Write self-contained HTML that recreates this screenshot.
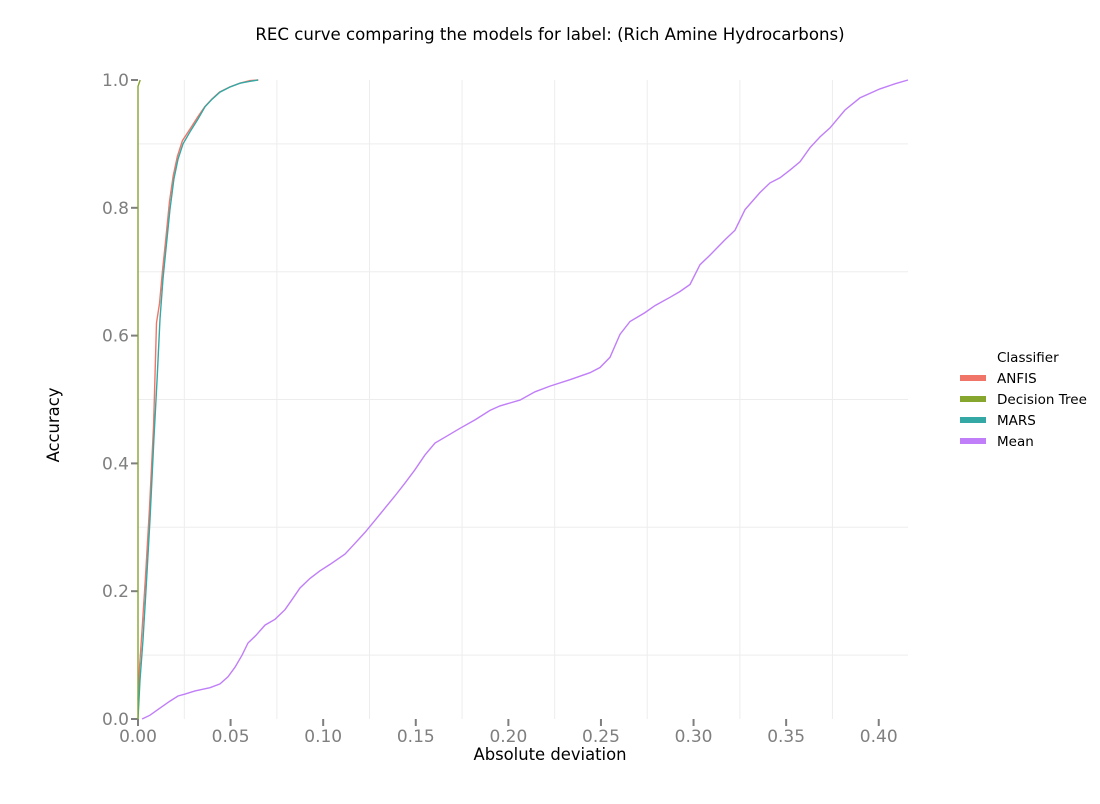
<!DOCTYPE html>
<html><head><meta charset="utf-8"><style>
body{margin:0;background:#fff;font-family:"DejaVu Sans","Liberation Sans",sans-serif}
</style></head><body>
<svg id="chart" width="1100" height="800" xmlns="http://www.w3.org/2000/svg">
<text x="550" y="40" text-anchor="middle" font-size="16.6" fill="#000">REC curve comparing the models for label: (Rich Amine Hydrocarbons)</text>
<g id="grid"></g>
<g id="axes"></g>
<g id="series"></g>
<text x="550" y="760" text-anchor="middle" font-size="16.4" fill="#000">Absolute deviation</text>
<text transform="translate(59,425) rotate(-90)" text-anchor="middle" font-size="16.4" fill="#000">Accuracy</text>
<g id="legend">
<text x="997" y="362" font-size="13.5" fill="#000">Classifier</text>
</g>
</svg>
<script>
const xTicks=[0,0.05,0.1,0.15,0.2,0.25,0.3,0.35,0.4];
const xTickLabels=["0.00","0.05","0.10","0.15","0.20","0.25","0.30","0.35","0.40"];
const yTicks=[0,0.2,0.4,0.6,0.8,1.0];
const yTickLabels=["0.0","0.2","0.4","0.6","0.8","1.0"];
const seriesNames=["ANFIS","Decision Tree","MARS","Mean"];
const seriesColors=["#f07568","#86a62e","#33a8a4","#c07ef8"];
const anfisX=[0,0.0008,0.0022,0.004,0.0062,0.0084,0.0100,0.0116,0.0132,0.0148,0.0170,0.0190,0.0212,0.0240,0.0285,0.0322,0.0360,0.0398,0.0440,0.0495,0.0550,0.0605,0.0650];
const anfisY=[0.03,0.08,0.14,0.22,0.33,0.46,0.62,0.65,0.70,0.745,0.81,0.85,0.88,0.905,0.925,0.942,0.958,0.970,0.981,0.989,0.995,0.999,1.0];
const treeX=[0,0,0.0012];
const treeY=[0,0.99,1.0];
const marsX=[0,0.0011,0.0027,0.0043,0.0065,0.0086,0.0103,0.0119,0.0135,0.0151,0.0173,0.0194,0.0216,0.0243,0.0281,0.0324,0.0362,0.0400,0.0443,0.0497,0.0551,0.0605,0.0648];
const marsY=[0,0.061,0.124,0.202,0.312,0.438,0.532,0.626,0.689,0.736,0.798,0.845,0.876,0.900,0.919,0.939,0.958,0.970,0.981,0.989,0.995,0.998,1.0];
const meanX=[.0022,.0065,.0119,.0173,.0216,.0254,.0308,.0389,.0443,.0486,.0524,.0562,.0594,.0637,.0686,.0740,.0794,.0837,.0875,.0929,.0983,.1037,.1118,.1172,.1226,.1280,.1334,.1387,.1441,.1495,.1549,.1604,.1658,.1739,.1820,.1901,.1955,.2063,.2144,.2225,.2333,.2441,.2495,.2549,.2603,.2657,.2738,.2792,.2873,.2927,.2981,.3035,.3089,.3170,.3224,.3278,.3359,.3413,.3467,.3521,.3575,.3629,.3683,.3737,.3818,.3898,.4006,.4087,.4158];
const meanY=[0,.006,.017,.028,.036,.039,.044,.049,.055,.066,.081,.100,.119,.131,.147,.156,.171,.189,.205,.220,.232,.242,.258,.275,.292,.311,.330,.349,.369,.390,.413,.432,.441,.455,.468,.483,.490,.499,.512,.521,.531,.542,.550,.566,.602,.622,.636,.647,.660,.669,.680,.711,.726,.750,.765,.797,.824,.839,.847,.859,.872,.894,.911,.925,.953,.972,.986,.994,1.0];

const NS="http://www.w3.org/2000/svg";
const X0=138,XMAX=908,DX=0.4158,Y0=719,Y1=80;
const sx=v=>X0+v/DX*(XMAX-X0);
const sy=v=>Y0-v*(Y0-Y1);
function mk(tag,attrs,parent){const e=document.createElementNS(NS,tag);for(const k in attrs)e.setAttribute(k,attrs[k]);parent.appendChild(e);return e;}
const grid=document.getElementById('grid'),axes=document.getElementById('axes'),ser=document.getElementById('series'),leg=document.getElementById('legend');
for(let v=0.025;v<DX;v+=0.05){const l=mk('line',{x1:sx(v),x2:sx(v),y1:Y1,y2:Y0,stroke:'#ededed','stroke-width':1},grid);

}
for(let v=0.1;v<1;v+=0.2){const l=mk('line',{x1:X0,x2:XMAX,y1:sy(v),y2:sy(v),stroke:'#ededed','stroke-width':1},grid);

}
xTicks.forEach((v,i)=>{const t=mk('line',{x1:sx(v),x2:sx(v),y1:Y0,y2:Y0+7,stroke:'#7f7f7f','stroke-width':2},axes);


const tx=mk('text',{x:sx(v),y:Y0+23,'text-anchor':'middle','font-size':17,fill:'#7f7f7f'},axes);tx.textContent=xTickLabels[i];

});
yTicks.forEach((v,i)=>{const t=mk('line',{x1:X0-7,x2:X0,y1:sy(v),y2:sy(v),stroke:'#7f7f7f','stroke-width':2},axes);


const tx=mk('text',{x:X0-9,y:sy(v)+6,'text-anchor':'end','font-size':17,fill:'#7f7f7f'},axes);tx.textContent=yTickLabels[i];

});
const data=[[anfisX,anfisY],[treeX,treeY],[marsX,marsY],[meanX,meanY]];
[3,0,2,1].forEach(i=>{const [xs,ys]=data[i];const d=xs.map((x,j)=>(j?'L':'M')+sx(x).toFixed(1)+','+sy(ys[j]).toFixed(1)).join('');
const p=mk('path',{d:d,fill:'none',stroke:seriesColors[i],'stroke-width':1.4},ser);

});
seriesNames.forEach((n,i)=>{const y=378+i*21;
const r=mk('rect',{x:960,y:y-3,width:26,height:6,fill:seriesColors[i]},leg);


const t=mk('text',{x:997,y:y+5,'font-size':13.5,fill:'#000'},leg);t.textContent=n;

});
</script>
</body></html>
